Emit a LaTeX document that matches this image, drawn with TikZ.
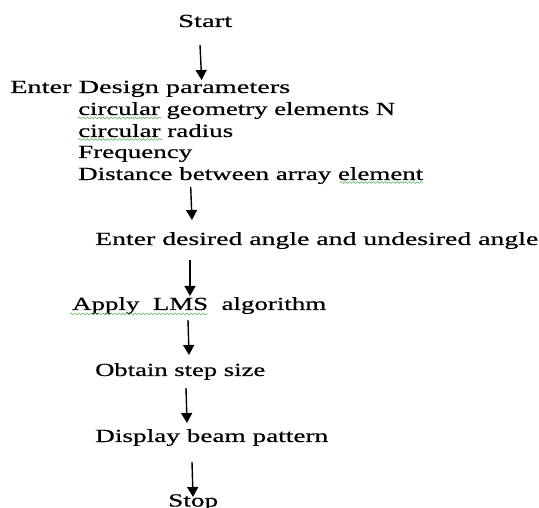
\documentclass[tikz,border=0pt]{standalone}
\usepackage{fontspec}
\usepackage{graphicx}
\setmainfont{Liberation Serif}[FakeBold=0.5]
\usetikzlibrary{arrows.meta,decorations.pathmorphing}
\newcommand{\fitw}[2]{\resizebox{#1pt}{\height}{#2}}
\definecolor{squig}{RGB}{110,190,110}
\begin{document}
\begin{tikzpicture}[x=1pt,y=1pt,
  lbl/.style={anchor=base west,inner sep=0pt,font=\fontsize{18.5}{22}\selectfont},
  arr/.style={line width=1.4pt,-{Triangle[width=11pt,length=10pt]}},
  wavy/.style={squig,line width=0.7pt,decorate,decoration={snake,amplitude=0.9pt,segment length=4pt}}]
\useasboundingbox (0,0) rectangle (539,-508);
\clip (0,0) rectangle (539,-508);
\node[lbl] (start) at (178,-27) {\fitw{54}{Start}};
\node[lbl] (enter) at (10,-93) {\fitw{280}{Enter Design parameters}};
\node[lbl] (circn) at (78,-115) {\fitw{317}{circular geometry elements N}};
\node[lbl] (circr) at (78,-137) {\fitw{155}{circular radius}};
\node[lbl] (freq) at (78,-158) {\fitw{114}{Frequency}};
\node[lbl] (dist) at (78,-180) {\fitw{345}{Distance between array element}};
\node[lbl] (angle) at (95,-245) {\fitw{443}{Enter desired angle and undesired angle}};
\node[lbl] (lms) at (72,-310) {\fitw{254}{Apply\ \ LMS\ \ algorithm}};
\node[lbl] (step) at (95,-376) {\fitw{170}{Obtain step size}};
\node[lbl] (beam) at (95,-442) {\fitw{233}{Display beam pattern}};
\node[lbl] (stop) at (168,-506.5) {\fitw{50}{Stop}};
\coordinate (a1s) at (200,-45);  \coordinate (a1e) at (201.7,-80);
\coordinate (a2s) at (190.7,-187); \coordinate (a2e) at (192,-220);
\coordinate (a3s) at (190,-260); \coordinate (a3e) at (190,-296);
\coordinate (a4s) at (188,-320); \coordinate (a4e) at (189,-355);
\coordinate (a5s) at (186,-388); \coordinate (a5e) at (187,-423);
\coordinate (a6s) at (192,-462); \coordinate (a6e) at (193,-497);
\draw[arr] (a1s) -- (a1e);
\draw[arr] (a2s) -- (a2e);
\draw[arr] (a3s) -- (a3e);
\draw[arr] (a4s) -- (a4e);
\draw[arr] (a5s) -- (a5e);
\draw[arr] (a6s) -- (a6e);
\coordinate (w1s) at (78,-118); \coordinate (w1e) at (162,-118);
\coordinate (w2s) at (78,-139.5); \coordinate (w2e) at (162,-139.5);
\coordinate (w3s) at (340,-182.5); \coordinate (w3e) at (423,-182.5);
\coordinate (w4s) at (70,-314); \coordinate (w4e) at (208,-314);
\draw[wavy] (w1s) -- (w1e);
\draw[wavy] (w2s) -- (w2e);
\draw[wavy] (w3s) -- (w3e);
\draw[wavy] (w4s) -- (w4e);
\end{tikzpicture}
\end{document}
